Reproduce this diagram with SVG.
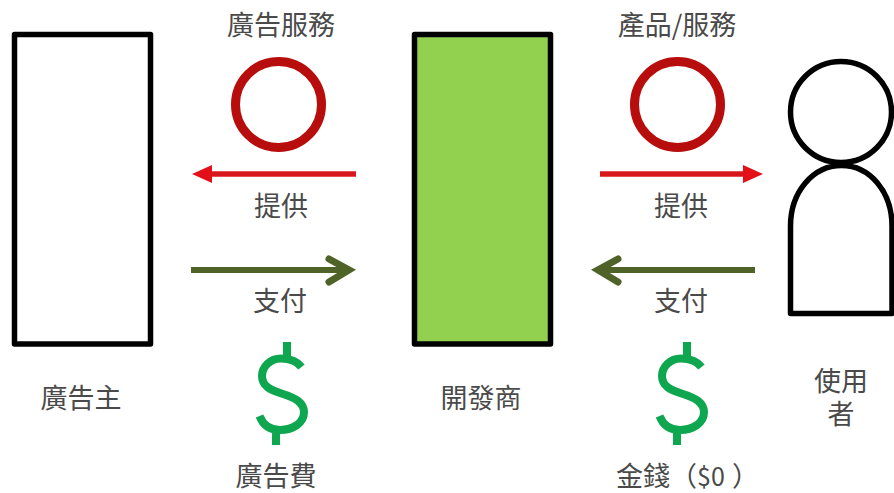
<svg xmlns="http://www.w3.org/2000/svg" width="894" height="493" viewBox="0 0 894 493">
<style>
text{font-family:"Noto Sans CJK TC","Noto Sans CJK SC",sans-serif;font-size:27px;fill:#4a4a4a;text-anchor:middle}
.box{stroke:#000;stroke-width:5.500;stroke-linejoin:round}
.ring{fill:#fff;stroke:#b80d0d}
.red{stroke:#d8171c;stroke-width:5.500;fill:none}
.olive{stroke:#4f6228;stroke-width:6;fill:none}
.chev{stroke:#4f6228;stroke-width:7;fill:none;stroke-linecap:round;stroke-linejoin:miter}
.dollar{stroke:#0fa650;stroke-width:8;fill:none}
</style>
<rect width="894" height="493" fill="#fff"/>
<g id="advertiser"><rect class="box" x="14.500" y="34.500" width="136" height="309.500" fill="#fff"/><text x="81" y="408">廣告主</text></g>
<g id="developer"><rect class="box" x="414.500" y="34.500" width="136" height="309.500" fill="#92d050"/><text x="481" y="408">開發商</text></g>
<g id="user">
<path class="box" d="M790.500 313.500V226C790.500 192 813 165.500 841.500 165.500C870 165.500 892 192 892 226V313.500Z" fill="#fff"/>
<circle cx="841" cy="112" r="50.500" fill="#fff" stroke="#000" stroke-width="5.500"/>
<text x="841" y="391">使用<tspan x="841" dy="33">者</tspan></text>
</g>
<g id="ad-service"><text x="281" y="35">廣告服務</text><circle class="ring" cx="278.500" cy="104.500" r="43" stroke-width="9"/></g>
<g id="product-service"><text x="677" y="35">產品/服務</text><circle class="ring" cx="677.500" cy="104.500" r="43" stroke-width="9"/></g>
<g id="ad-fee">
<path class="dollar" d="M287 342V360M276 428V445M301.500 367C296 360 288 358.500 281 358.500C270 358.500 262 367 262 376C262 386 270 390 283 394C296 398 304 403 304 412C304 423 293 430 280 430C270 430 263 425 259.500 416"/>
<text x="276" y="486">廣告費</text>
</g>
<g id="money">
<path class="dollar" d="M687 342V360M677 428V445M701.500 367C696 360 688 358.500 681 358.500C670 358.500 662 367 662 376C662 386 670 390 683 394C696 398 704 403 704 412C704 423 693 430 680 430C670 430 663 425 659.500 416"/>
<text style="text-anchor:start" x="616" y="486">金錢<tspan x="670">（</tspan><tspan x="697" font-size="25">$0</tspan><tspan x="732">）</tspan></text>
</g>
<g id="connectors">
<path class="red" d="M356 174H208"/><path d="M192 174L212 165V183Z" fill="#e3101a"/>
<path class="red" d="M600 174H748"/><path d="M763 174L743 165V183Z" fill="#e3101a"/>
<path class="olive" d="M191 270H348"/><path class="chev" d="M329 259L349 270L329 282"/>
<path class="olive" d="M755 270H600"/><path class="chev" d="M618 259L598 270L618 282"/>
</g>
<g id="labels">
<text x="281" y="216">提供</text><text x="681" y="216">提供</text>
<text x="280" y="311">支付</text><text x="681" y="311">支付</text>
</g>
</svg>
